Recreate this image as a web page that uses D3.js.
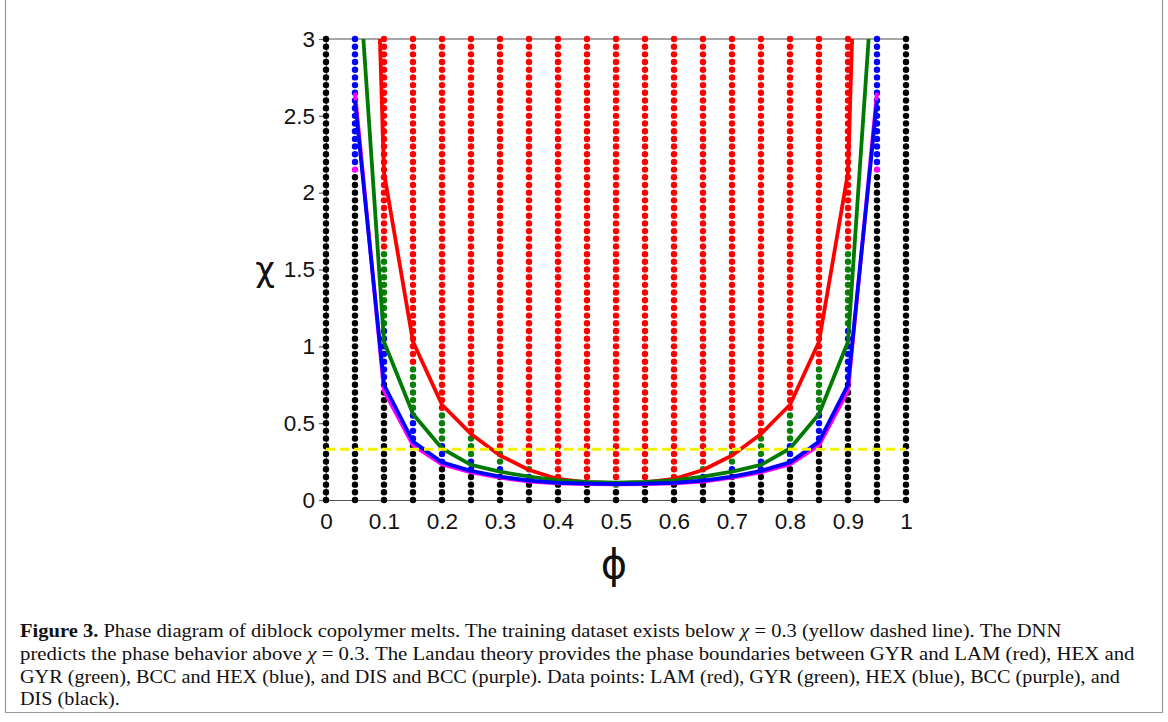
<!DOCTYPE html>
<html>
<head>
<meta charset="utf-8">
<script src="https://cdn.jsdelivr.net/npm/d3@7"></script>
<style>
  html, body { margin: 0; padding: 0; background: #fff; }
  svg { display: block; }
</style>
</head>
<body>
<svg id="chart" width="1168" height="722"></svg>
<script>
// ---------- DATA ----------
const phiCols = [0, 0.05, 0.1, 0.15, 0.2, 0.25, 0.3, 0.35, 0.4, 0.45, 0.5, 0.55, 0.6, 0.65, 0.7, 0.75, 0.8, 0.85, 0.9, 0.95, 1];
const chiRows = [0, 0.05, 0.1, 0.15, 0.2, 0.25, 0.3, 0.35, 0.4, 0.45, 0.5, 0.55, 0.6, 0.65, 0.7, 0.75, 0.8, 0.85, 0.9, 0.95,
                 1, 1.05, 1.1, 1.15, 1.2, 1.25, 1.3, 1.35, 1.4, 1.45, 1.5, 1.55, 1.6, 1.65, 1.7, 1.75, 1.8, 1.85, 1.9, 1.95,
                 2, 2.05, 2.1, 2.15, 2.2, 2.25, 2.3, 2.35, 2.4, 2.45, 2.5, 2.55, 2.6, 2.65, 2.7, 2.75, 2.8, 2.85, 2.9, 2.95, 3];
// highest chi of each predicted phase, per phi column (above gyrTop -> LAM)
const disTop = [3, 2.1, 0.75, 0.35, 0.2, 0.15, 0.15, 0.1, 0.1, 0.1, 0.05, 0.1, 0.1, 0.1, 0.15, 0.15, 0.2, 0.35, 0.75, 2.1, 3];
const bccTop = [3, 2.15, 0.75, 0.35, 0.2, 0.15, 0.15, 0.1, 0.1, 0.1, 0.05, 0.1, 0.1, 0.1, 0.15, 0.15, 0.2, 0.35, 0.75, 2.15, 3];
const hexTop = [3, 3, 1.1, 0.55, 0.35, 0.25, 0.2, 0.15, 0.1, 0.1, 0.05, 0.1, 0.1, 0.15, 0.2, 0.25, 0.35, 0.55, 1.1, 3, 3];
const gyrTop = [3, 3, 1.6, 0.85, 0.55, 0.4, 0.3, 0.2, 0.1, 0.1, 0.1, 0.1, 0.1, 0.2, 0.3, 0.4, 0.55, 0.85, 1.6, 3, 3];

// Landau theory boundaries
const phiLine = [0.05, 0.1, 0.15, 0.2, 0.25, 0.3, 0.35, 0.4, 0.45, 0.5, 0.55, 0.6, 0.65, 0.7, 0.75, 0.8, 0.85, 0.9, 0.95];
const gyrLam = [8.3, 2.13, 1.03, 0.62, 0.43, 0.29, 0.195, 0.137, 0.115, 0.11, 0.115, 0.137, 0.195, 0.29, 0.43, 0.62, 1.03, 2.13, 8.3];
const hexGyr = [3.8, 1.03, 0.56, 0.335, 0.228, 0.184, 0.152, 0.128, 0.117, 0.113, 0.117, 0.128, 0.152, 0.184, 0.228, 0.335, 0.56, 1.03, 3.8];
const disBcc = [2.65, 0.71, 0.355, 0.232, 0.18, 0.145, 0.12, 0.108, 0.103, 0.102, 0.103, 0.108, 0.12, 0.145, 0.18, 0.232, 0.355, 0.71, 2.65];
const bccHex = [2.6, 0.75, 0.38, 0.245, 0.19, 0.152, 0.126, 0.112, 0.106, 0.104, 0.106, 0.112, 0.126, 0.152, 0.19, 0.245, 0.38, 0.75, 2.6];

const trainingLimit = 0.33;

const xTicks = [0, 0.1, 0.2, 0.3, 0.4, 0.5, 0.6, 0.7, 0.8, 0.9, 1];
const xTickLabels = ["0", "0.1", "0.2", "0.3", "0.4", "0.5", "0.6", "0.7", "0.8", "0.9", "1"];
const yTicks = [0, 0.5, 1, 1.5, 2, 2.5, 3];
const yTickLabels = ["0", "0.5", "1", "1.5", "2", "2.5", "3"];

const phaseColor = { DIS: "#000000", BCC: "#ff00ff", HEX: "#0000ff", GYR: "#0a800a", LAM: "#ff0000" };

// ---------- DRAW ----------
const svg = d3.select("#chart");
const x = d3.scaleLinear().domain([0, 1]).range([326, 906]);
const y = d3.scaleLinear().domain([0, 3]).range([500, 39]);

// frame line at top
svg.append("line").attr("x1", x(0)).attr("x2", x(1)).attr("y1", y(3)).attr("y2", y(3))
  .attr("stroke", "#8a8a8a").attr("stroke-width", 1.5);

// axes
const yAxis = d3.axisLeft(y).tickValues(yTicks).tickFormat((d, i) => yTickLabels[i]).tickSize(7).tickPadding(4);
const gy = svg.append("g").attr("transform", `translate(${x(0)},0)`).call(yAxis);
gy.select(".domain").attr("stroke", "#666").attr("stroke-width", 1.2);
gy.selectAll(".tick line").attr("stroke", "#666").attr("stroke-width", 1.2);
gy.selectAll(".tick text").attr("font-family", "'Liberation Sans', Arial, sans-serif").attr("font-size", 22.5).attr("fill", "#111");

const xAxis = d3.axisBottom(x).tickValues(xTicks).tickFormat((d, i) => xTickLabels[i]).tickSize(0).tickPadding(13);
const gx = svg.append("g").attr("transform", `translate(0,${y(0)})`).call(xAxis);
gx.select(".domain").attr("stroke", "#555").attr("stroke-width", 1.2);
gx.selectAll(".tick text").attr("font-family", "'Liberation Sans', Arial, sans-serif").attr("font-size", 22.5).attr("fill", "#111");

// data points
function phaseOf(ci, chi) {
  const e = 1e-9;
  if (chi <= disTop[ci] + e) return "DIS";
  if (chi <= bccTop[ci] + e) return "BCC";
  if (chi <= hexTop[ci] + e) return "HEX";
  if (chi <= gyrTop[ci] + e) return "GYR";
  return "LAM";
}
const pts = [];
phiCols.forEach((p, ci) => chiRows.forEach(c => pts.push({ phi: p, chi: c, phase: phaseOf(ci, c) })));
svg.append("g").selectAll("circle").data(pts).join("circle")
  .attr("cx", d => x(d.phi)).attr("cy", d => y(d.chi)).attr("r", 3.2)
  .attr("fill", d => phaseColor[d.phase]);

// boundary lines (clipped to plot area)
svg.append("clipPath").attr("id", "clip").append("rect")
  .attr("x", x(0)).attr("y", y(3)).attr("width", x(1) - x(0)).attr("height", y(0) - y(3));
const lineGen = d3.line().x(d => x(d[0])).y(d => y(d[1]));
const gl = svg.append("g").attr("clip-path", "url(#clip)");
[[gyrLam, "#ff0000"], [hexGyr, "#007a00"], [disBcc, "#ff00ff"], [bccHex, "#0000ff"]].forEach(([vals, col]) => {
  gl.append("path").attr("d", lineGen(phiLine.map((p, i) => [p, vals[i]])))
    .attr("fill", "none").attr("stroke", col).attr("stroke-width", 3.8).attr("stroke-linejoin", "round");
});

// training limit
svg.append("line").attr("x1", x(0)).attr("x2", x(1)).attr("y1", y(trainingLimit)).attr("y2", y(trainingLimit))
  .attr("stroke", "#f2f200").attr("stroke-width", 3).attr("stroke-dasharray", "9,5");

// axis titles
svg.append("text").attr("x", 265).attr("y", 281).attr("text-anchor", "middle")
  .attr("font-family", "'DejaVu Sans', sans-serif").attr("font-size", 34).attr("fill", "#111").text("χ");
svg.append("text").attr("x", 614).attr("y", 578).attr("text-anchor", "middle")
  .attr("font-family", "'DejaVu Sans', sans-serif").attr("font-size", 40).attr("fill", "#111").text("ϕ");

// caption frame
svg.append("path").attr("d", "M5.5,0 V712.5 H1162.5 V0").attr("fill", "none").attr("stroke", "#999").attr("stroke-width", 1.2);

// caption text
const captionLines = [
  { y: 637, w: 1042, parts: [["Figure 3.", "bold"], [" Phase diagram of diblock copolymer melts. The training dataset exists below ", ""], ["χ", "italic"], [" = 0.3 (yellow dashed line). The DNN", ""]] },
  { y: 660, w: 1115, parts: [["predicts the phase behavior above ", ""], ["χ", "italic"], [" = 0.3. The Landau theory provides the phase boundaries between GYR and LAM (red), HEX and", ""]] },
  { y: 683, w: 1100, parts: [["GYR (green), BCC and HEX (blue), and DIS and BCC (purple). Data points: LAM (red), GYR (green), HEX (blue), BCC (purple), and", ""]] },
  { y: 705, w: null, parts: [["DIS (black).", ""]] }
];
let lastScale = 1;
captionLines.forEach(L => {
  const t = svg.append("text").attr("font-family", "'Liberation Serif', 'Times New Roman', serif")
    .attr("font-size", 18.5).attr("fill", "#111").attr("x", 0).attr("y", 0);
  L.parts.forEach(([s, st]) => {
    const ts = t.append("tspan").text(s);
    if (st === "bold") ts.attr("font-weight", "bold");
    if (st === "italic") ts.attr("font-style", "italic");
  });
  const w = t.node().getComputedTextLength();
  const s = L.w ? L.w / w : lastScale;
  lastScale = s;
  t.attr("transform", `translate(20,${L.y}) scale(${s},1)`);
});
</script>
</body>
</html>
